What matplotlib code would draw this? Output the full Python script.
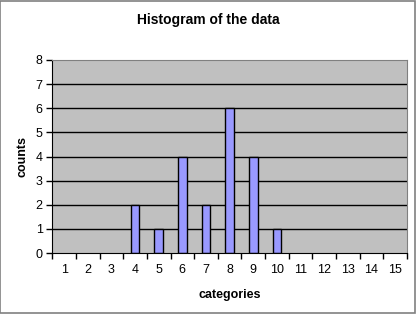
import numpy as np
import matplotlib.pyplot as plt
from matplotlib.patches import Rectangle

plt.rcParams['font.family'] = ['Liberation Sans', 'DejaVu Sans']

categories = list(range(1, 16))
counts = [0, 0, 0, 2, 1, 4, 2, 6, 4, 1, 0, 0, 0, 0, 0]
yticks = list(range(0, 9))

fig = plt.figure(figsize=(4.16, 3.14), dpi=100)
fig.patch.set_facecolor('white')
# outer chart border like excel
fig.patches.append(Rectangle((0.001, 0.002), 0.996, 0.995, transform=fig.transFigure,
                             fill=False, edgecolor='#808080', linewidth=1.2))

ax = fig.add_axes([0.126, 0.194, 0.852, 0.615])
ax.set_facecolor('#c0c0c0')

for y in yticks[1:-1]:
    ax.axhline(y, color='black', linewidth=1.0, zorder=1)

# empty categories draw nothing
x_nz = [c for c, n in zip(categories, counts) if n > 0]
y_nz = [n for n in counts if n > 0]
ax.bar(x_nz, y_nz, width=0.36, color='#9999ff', edgecolor='black',
       linewidth=1.0, zorder=2)

ax.set_xlim(0.5, 15.5)
ax.set_ylim(0, 8)
ax.set_yticks(yticks)
ax.set_yticklabels([str(v) for v in yticks], fontsize=9)
ax.set_xticks(np.arange(0.5, 16, 1))
ax.set_xticklabels([])
ax.set_xticks(categories, minor=True)
ax.set_xticklabels([str(c) for c in categories], minor=True, fontsize=9)
ax.tick_params(axis='x', which='major', direction='out', length=4, width=1, color='black')
ax.tick_params(axis='x', which='minor', length=0, pad=8)
ax.tick_params(axis='y', direction='out', length=4, width=1, pad=3)

ax.spines['left'].set_color('black')
ax.spines['bottom'].set_color('black')
ax.spines['top'].set_color('#808080')
ax.spines['right'].set_color('#808080')

fig.text(0.5, 0.935, 'Histogram of the data', ha='center', va='center',
         fontsize=10, fontweight='bold')
ax.set_xlabel('categories', fontsize=9, fontweight='bold', labelpad=9)
ax.set_ylabel('counts', fontsize=9, fontweight='bold', labelpad=5)

fig.savefig('out.png', dpi=100)
